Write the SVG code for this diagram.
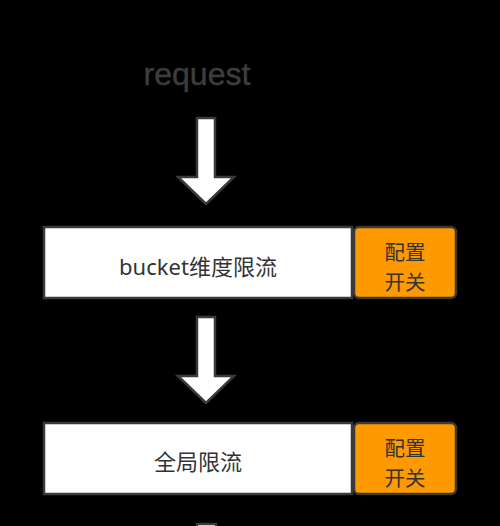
<svg xmlns="http://www.w3.org/2000/svg" width="500" height="526" viewBox="0 0 500 526">
<style>
.main{fill:#ffffff;stroke:#3a3a3a;stroke-width:2.5}
.sw{fill:#ff9900;stroke:#3a3a3a;stroke-width:2.5}
.arrow{fill:#ffffff;stroke:#3a3a3a;stroke-width:2.5;stroke-linejoin:miter}
.t{font-family:"Noto Sans","Noto Sans CJK SC",sans-serif;font-size:22px;fill:#333333;text-anchor:middle}
.s{font-family:"Noto Sans CJK SC",sans-serif;font-size:20.5px;fill:#333333;text-anchor:middle}
.req{font-family:"Liberation Sans",sans-serif;font-size:31px;fill:#3d3d3d;stroke:#3d3d3d;stroke-width:0.4;text-anchor:middle}
</style>
<rect width="500" height="526" fill="#000000"/>
<g id="request">
<text class="req" x="197" y="85" textLength="107" lengthAdjust="spacingAndGlyphs">request</text>
</g>
<g id="connectors">
<polygon class="arrow" points="197,118 215,118 215,177 234,177 206,204 178,177 197,177"/>
<polygon class="arrow" points="197,317 215,317 215,376 234,376 206,403 178,376 197,376"/>
<polygon class="arrow" points="197,524 216,524 216,560 197,560"/>
</g>
<g id="bucket">
<rect class="main" x="44" y="227" width="308" height="71"/>
<text class="t" x="198" y="275">bucket维度限流</text>
</g>
<g id="switch1">
<rect class="sw" x="354" y="227" width="102" height="71" rx="5"/>
<text class="s" x="405" y="259.5">配置</text>
<text class="s" x="405" y="289.5">开关</text>
</g>
<g id="global">
<rect class="main" x="44" y="423" width="308" height="71"/>
<text class="s" x="198" y="470" style="font-size:22px">全局限流</text>
</g>
<g id="switch2">
<rect class="sw" x="354" y="423" width="102" height="71" rx="5"/>
<text class="s" x="405" y="455.5">配置</text>
<text class="s" x="405" y="485.5">开关</text>
</g>
</svg>
